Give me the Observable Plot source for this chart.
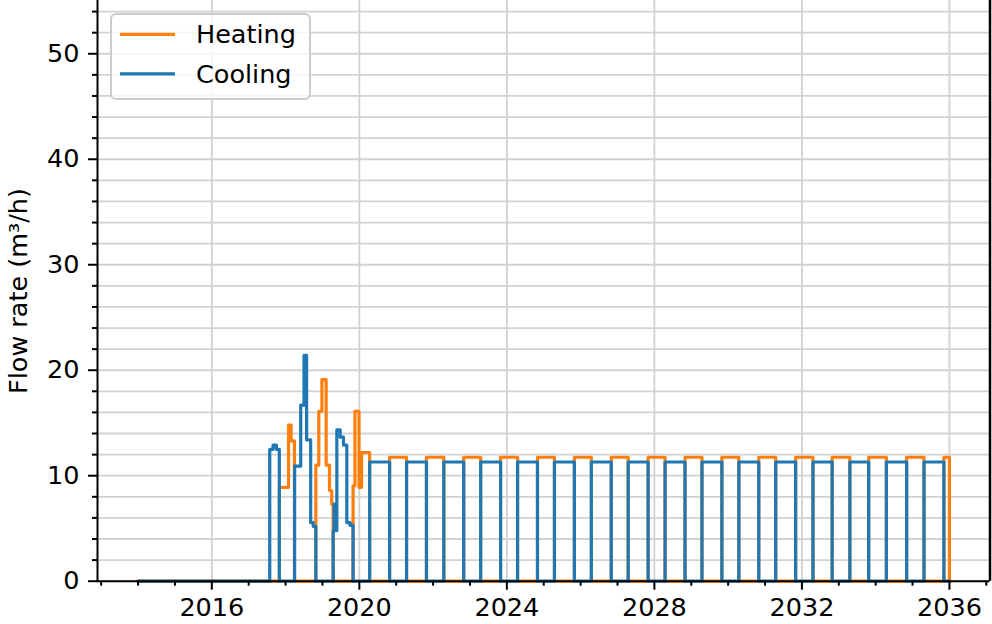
<!DOCTYPE html>
<html>
<head>
<meta charset="utf-8">
<script src="https://cdn.jsdelivr.net/npm/d3@7"></script>
<script src="https://cdn.jsdelivr.net/npm/@observablehq/plot@0.6"></script>
<style>
  html, body { margin: 0; padding: 0; background: white; }
  #chart { width: 992px; height: 624px; overflow: hidden; }
</style>
</head>
<body>
<div id="chart"></div>
<script>
// ---- Data (decimal years, step-after breakpoints) ----
const heatingT = [2014.0, 2017.83, 2018.08, 2018.15, 2018.24, 2018.82, 2018.90, 2018.985, 2019.10, 2019.19, 2019.25, 2019.29,
  2019.83, 2019.88, 2019.99, 2020.06, 2020.28,
  2020.82, 2021.28, 2021.82, 2022.29, 2022.83, 2023.29, 2023.83, 2024.29, 2024.83, 2025.29, 2025.83, 2026.29,
  2026.83, 2027.29, 2027.83, 2028.29, 2028.83, 2029.29, 2029.83, 2030.29, 2030.83, 2031.29, 2031.83, 2032.30,
  2032.82, 2033.30, 2033.81, 2034.29, 2034.84, 2035.31, 2035.85, 2036.0];
const heatingV = [0, 8.9, 14.8, 13.3, 0, 11.0, 16.1, 19.1, 11.0, 8.6, 7.3, 0,
  9.05, 16.1, 8.9, 12.2, 0,
  11.75, 0, 11.75, 0, 11.75, 0, 11.75, 0, 11.75, 0, 11.75, 0,
  11.75, 0, 11.75, 0, 11.75, 0, 11.75, 0, 11.75, 0, 11.75, 0,
  11.75, 0, 11.75, 0, 11.75, 0, 11.75, 0];

const coolingT = [2014.0, 2017.57, 2017.66, 2017.75, 2017.83, 2018.245, 2018.41, 2018.50, 2018.57, 2018.68, 2018.75, 2018.82,
  2019.29, 2019.315, 2019.34, 2019.39, 2019.48, 2019.57, 2019.66, 2019.75, 2019.83,
  2020.28, 2020.82, 2021.28, 2021.82, 2022.29, 2022.83, 2023.29, 2023.83, 2024.29, 2024.83, 2025.29, 2025.83,
  2026.29, 2026.83, 2027.29, 2027.83, 2028.29, 2028.83, 2029.29, 2029.83, 2030.29, 2030.83, 2031.29, 2031.83,
  2032.30, 2032.82, 2033.30, 2033.81, 2034.29, 2034.84, 2035.31, 2035.85, 2036.0];
const coolingV = [0, 12.5, 12.9, 12.5, 0, 10.9, 16.7, 21.4, 13.4, 5.56, 5.2, 0,
  4.8, 7.3, 4.8, 14.35, 13.65, 12.9, 5.56, 5.3, 0,
  11.3, 0, 11.3, 0, 11.3, 0, 11.3, 0, 11.3, 0, 11.3, 0,
  11.3, 0, 11.3, 0, 11.3, 0, 11.3, 0, 11.3, 0, 11.3, 0,
  11.3, 0, 11.3, 0, 11.3, 0, 11.3, 0, 0];

const xMajorTicks = [2016, 2020, 2024, 2028, 2032, 2036];
const xMinorTicks = [2013, 2014, 2015, 2017, 2018, 2019, 2021, 2022, 2023, 2025, 2026, 2027, 2029, 2030, 2031, 2033, 2034, 2035, 2037];
const yMajorTicks = [0, 10, 20, 30, 40, 50];
const yMinorTicks = [2, 4, 6, 8, 12, 14, 16, 18, 22, 24, 26, 28, 32, 34, 36, 38, 42, 44, 46, 48, 52, 54];
const seriesNames = ["Heating", "Cooling"];
const seriesColors = ["#ff7f0e", "#1f77b4"];

const heating = heatingT.map((t, i) => ({t, v: heatingV[i]}));
const cooling = coolingT.map((t, i) => ({t, v: coolingV[i]}));

const FONT = "DejaVu Sans, sans-serif";
const FS = 25.5;
const xDom = [2012.9, 2037.1];

const chart = Plot.plot({
  width: 992,
  height: 624,
  marginLeft: 97,
  marginRight: 2.5,
  marginTop: 0,
  marginBottom: 43.3,
  x: {domain: xDom},
  y: {domain: [0, 55.05]},
  style: {fontFamily: FONT, fontSize: FS + "px", background: "white", color: "black"},
  marks: [
    Plot.gridY([...yMajorTicks, ...yMinorTicks], {stroke: "#d2d2d2", strokeOpacity: 1, strokeWidth: 1.8}),
    Plot.gridX(xMajorTicks, {stroke: "#d2d2d2", strokeOpacity: 1, strokeWidth: 1.8}),
    Plot.line(heating, {x: "t", y: "v", curve: "step-after", stroke: seriesColors[0], strokeWidth: 3.2}),
    Plot.line(cooling, {x: "t", y: "v", curve: "step-after", stroke: seriesColors[1], strokeWidth: 3.2}),
    Plot.axisX(xMajorTicks, {tickSize: 9, tickPadding: 8, tickFormat: d => String(d), strokeWidth: 2, fontSize: FS, label: null}),
    Plot.axisX(xMinorTicks, {tickSize: 5, tickFormat: () => "", strokeWidth: 2, label: null}),
    Plot.axisY(yMajorTicks, {tickSize: 9, tickPadding: 9, tickFormat: d => String(d), strokeWidth: 2, fontSize: FS, label: null}),
    Plot.axisY(yMinorTicks, {tickSize: 5, tickFormat: () => "", strokeWidth: 2, label: null}),
    Plot.ruleX([xDom[0]], {stroke: "black", strokeWidth: 2}),
    Plot.ruleX([xDom[1]], {stroke: "black", strokeWidth: 2.5}),
    Plot.ruleY([0], {stroke: "black", strokeWidth: 2})
  ]
});

document.getElementById("chart").appendChild(chart);

const svg = d3.select(chart);

// y-axis label
svg.append("text")
  .attr("transform", "translate(27,291) rotate(-90)")
  .attr("text-anchor", "middle")
  .attr("font-family", FONT)
  .attr("font-size", FS)
  .attr("fill", "black")
  .text("Flow rate (m³/h)");

// legend
const lg = svg.append("g");
lg.append("rect")
  .attr("x", 111).attr("y", 14).attr("width", 199).attr("height", 85)
  .attr("rx", 5).attr("ry", 5)
  .attr("fill", "white").attr("fill-opacity", 0.8)
  .attr("stroke", "#cccccc").attr("stroke-width", 2);
seriesNames.forEach((name, i) => {
  const y = 34.3 + i * 39.5;
  lg.append("line")
    .attr("x1", 120).attr("x2", 175).attr("y1", y).attr("y2", y)
    .attr("stroke", seriesColors[i]).attr("stroke-width", 3.2);
  lg.append("text")
    .attr("x", 196).attr("y", y).attr("dy", "0.36em")
    .attr("text-anchor", "start")
    .attr("font-family", FONT).attr("font-size", FS)
    .attr("fill", "black")
    .text(name);
});
</script>
</body>
</html>
